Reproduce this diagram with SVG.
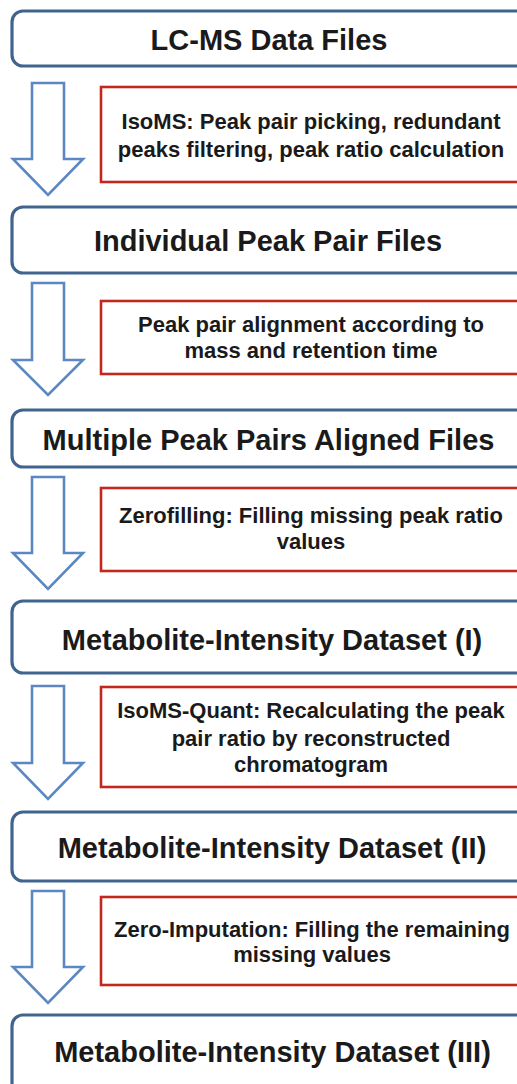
<svg xmlns="http://www.w3.org/2000/svg" width="517" height="1084" viewBox="0 0 517 1084">
<style>
.node rect{fill:#fff;stroke:#41648f;stroke-width:3.2}
.step rect{fill:#fff;stroke:#c3281f;stroke-width:2.6}
.arrow{fill:#fff;stroke:#5b88c2;stroke-width:2.6;stroke-linejoin:miter}
.t{font-family:"Liberation Sans",Arial,sans-serif;font-weight:bold;font-size:29px;fill:#1a1a1a;text-anchor:middle}
.s{font-family:"Liberation Sans",Arial,sans-serif;font-weight:bold;font-size:22px;fill:#1a1a1a;text-anchor:middle}
</style>
<rect width="517" height="1084" fill="#fff"/>
<g id="connectors">
<polygon class="arrow" points="32,83 64,83 64,159 83,159 48,195 13,159 32,159"/>
<polygon class="arrow" points="32,283 64,283 64,360 83,360 48,395 13,360 32,360"/>
<polygon class="arrow" points="32,477 64,477 64,553 83,553 48,589 13,553 32,553"/>
<polygon class="arrow" points="32,686 64,686 64,763 83,763 48,799 13,763 32,763"/>
<polygon class="arrow" points="32,891 64,891 64,967 83,967 48,1003 13,967 32,967"/>
</g>
<g id="node1" class="node"><rect x="12" y="11" width="530" height="55" rx="11"/><text class="t" x="269" y="50">LC-MS Data Files</text></g>
<g id="step1" class="step"><rect x="101" y="87" width="440" height="95"/><text class="s" x="311" y="129">IsoMS: Peak pair picking, redundant</text><text class="s" x="311" y="157">peaks filtering, peak ratio calculation</text></g>
<g id="node2" class="node"><rect x="12" y="207" width="530" height="66" rx="11"/><text class="t" x="268" y="251">Individual Peak Pair Files</text></g>
<g id="step2" class="step"><rect x="101" y="301" width="440" height="73"/><text class="s" x="311" y="332">Peak pair alignment according to</text><text class="s" x="311" y="358">mass and retention time</text></g>
<g id="node3" class="node"><rect x="12" y="410" width="530" height="57" rx="11"/><text class="t" x="268.5" y="450">Multiple Peak Pairs Aligned Files</text></g>
<g id="step3" class="step"><rect x="101" y="488" width="440" height="83"/><text class="s" x="311" y="523">Zerofilling: Filling missing peak ratio</text><text class="s" x="311" y="549">values</text></g>
<g id="node4" class="node"><rect x="12" y="601" width="530" height="72" rx="11"/><text class="t" x="272" y="650">Metabolite-Intensity Dataset (I)</text></g>
<g id="step4" class="step"><rect x="101" y="687" width="440" height="100"/><text class="s" x="311" y="718">IsoMS-Quant: Recalculating the peak</text><text class="s" x="311" y="746">pair ratio by reconstructed</text><text class="s" x="311" y="772">chromatogram</text></g>
<g id="node5" class="node"><rect x="12" y="812" width="530" height="69" rx="11"/><text class="t" x="272" y="858">Metabolite-Intensity Dataset (II)</text></g>
<g id="step5" class="step"><rect x="101" y="897" width="440" height="88"/><text class="s" x="312" y="937">Zero-Imputation: Filling the remaining</text><text class="s" x="312" y="962">missing values</text></g>
<g id="node6" class="node"><rect x="12" y="1015" width="530" height="90" rx="11"/><text class="t" x="272.5" y="1062">Metabolite-Intensity Dataset (III)</text></g>
</svg>
